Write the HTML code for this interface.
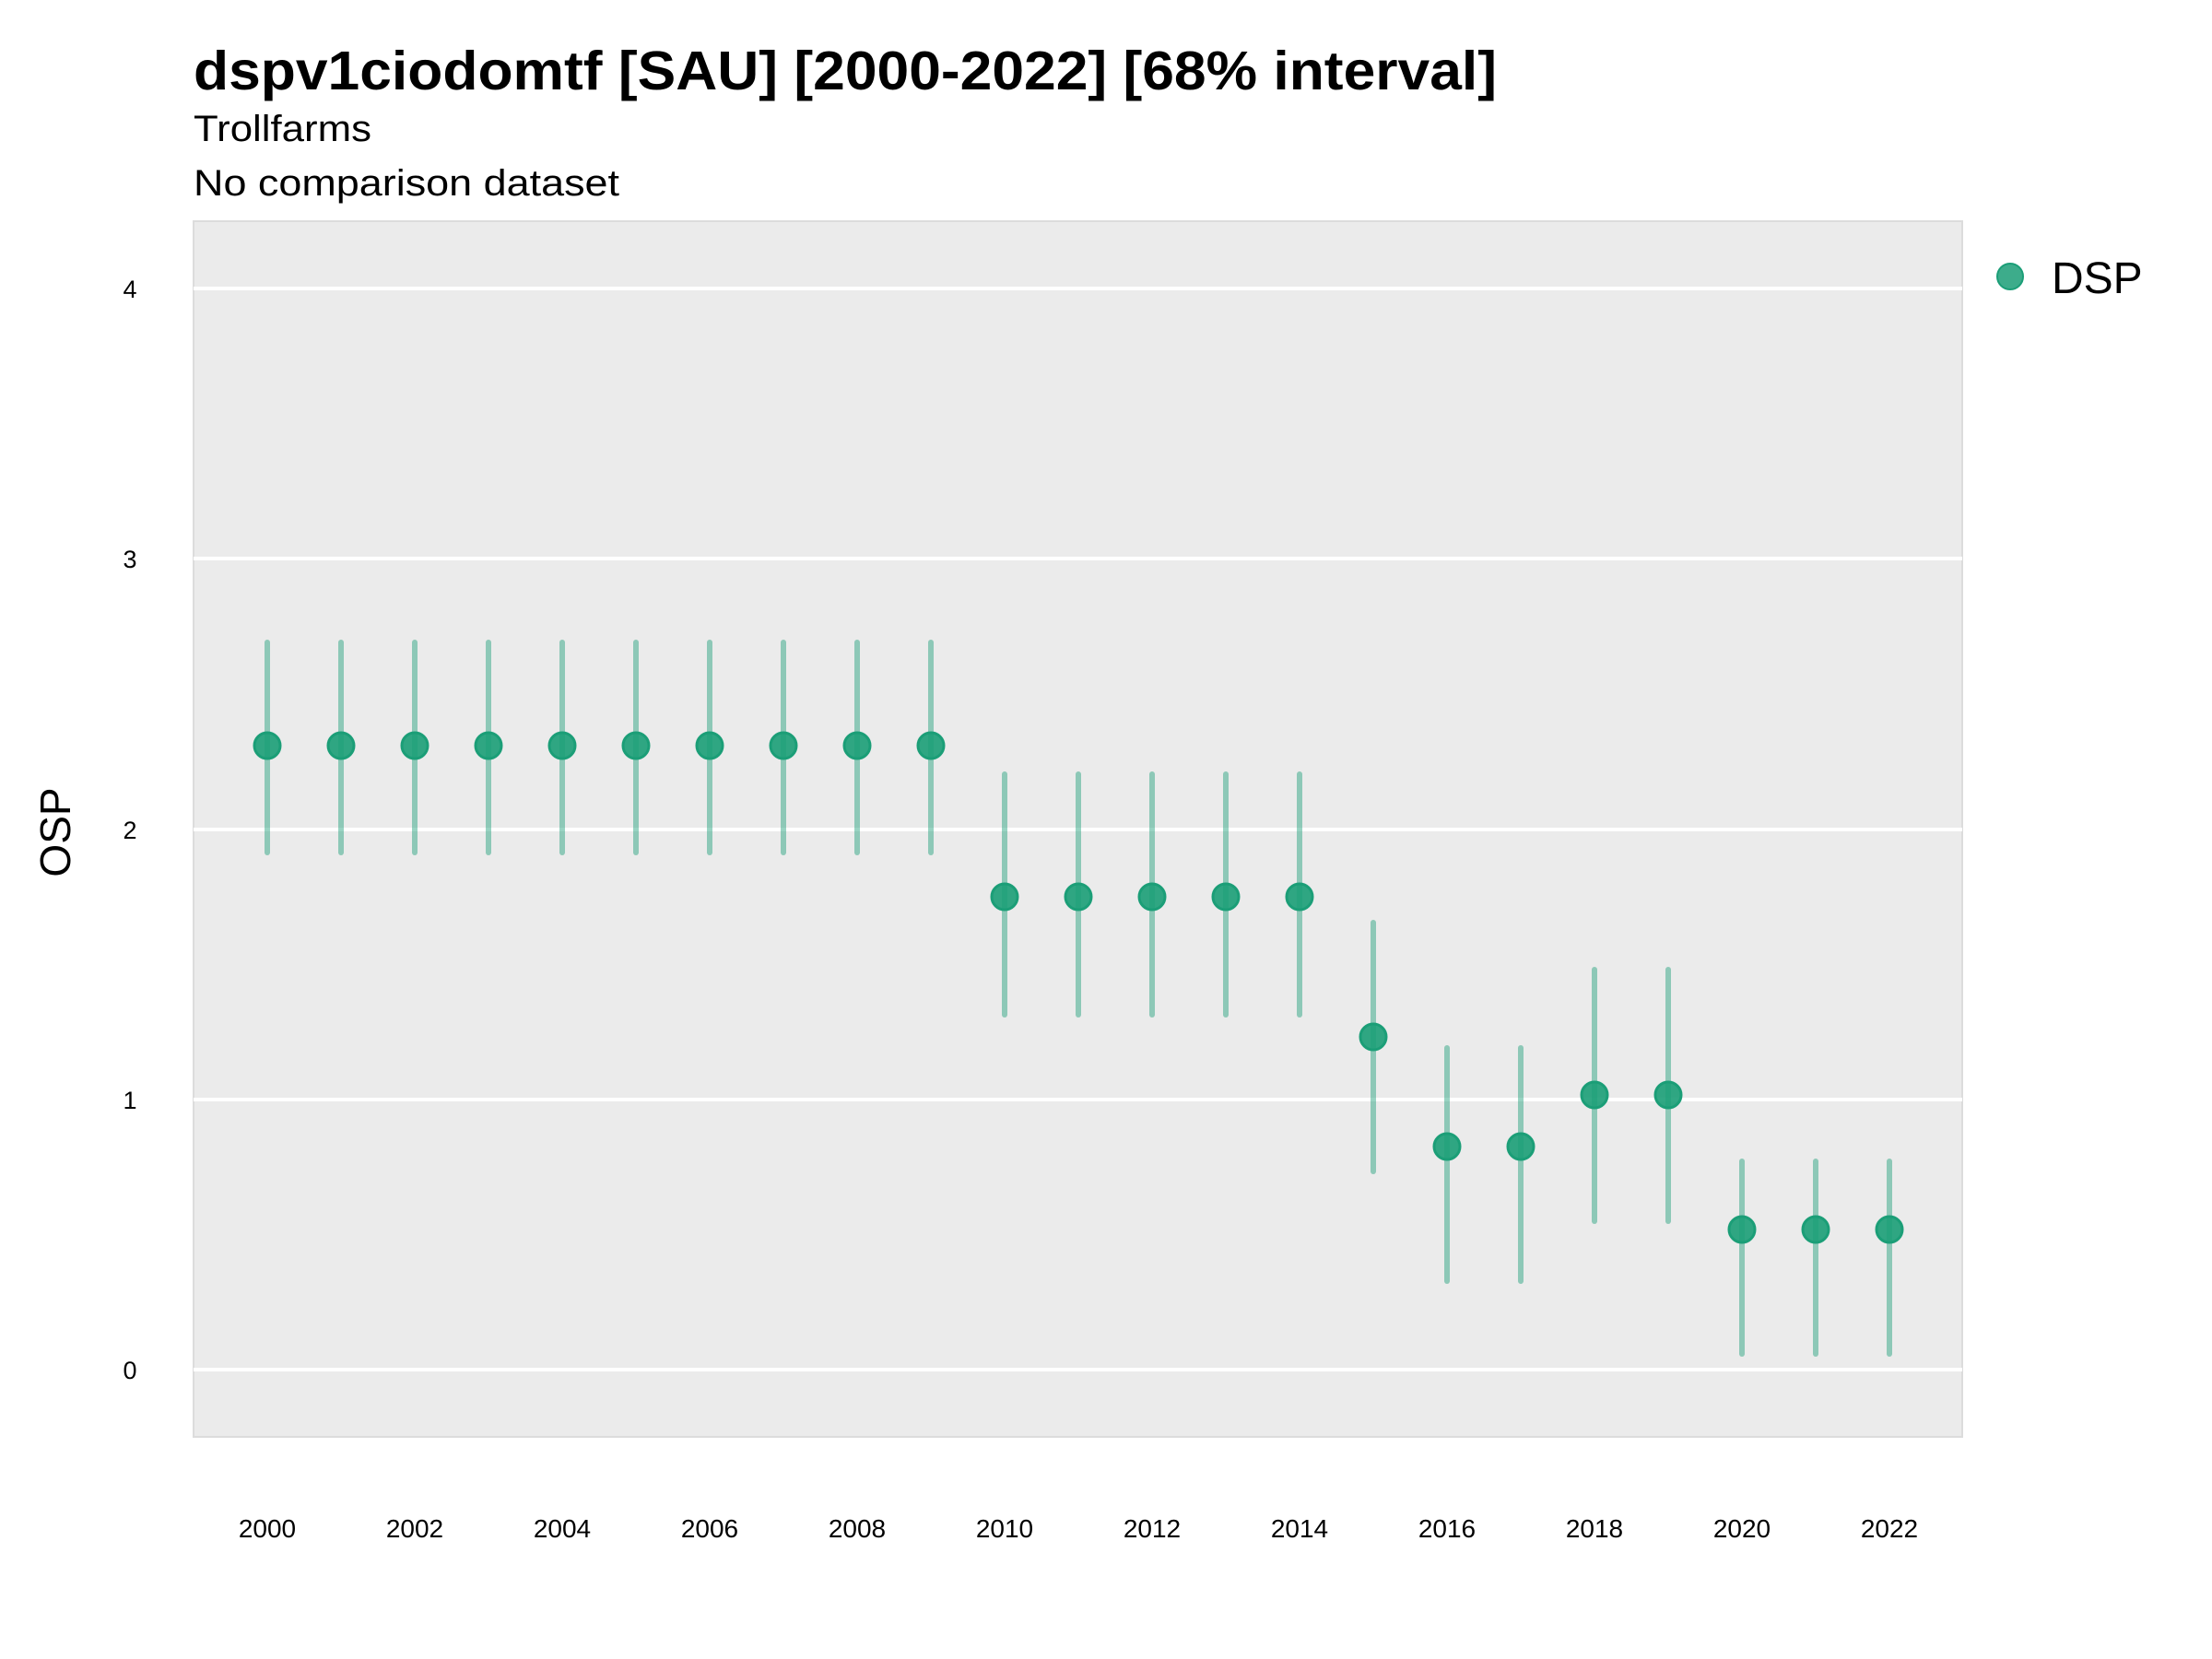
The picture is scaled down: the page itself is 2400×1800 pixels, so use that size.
<!DOCTYPE html>
<html><head><meta charset="utf-8"><style>
html,body{margin:0;padding:0;background:#fff;}
svg{display:block;font-family:"Liberation Sans",sans-serif;}
</style></head><body>
<svg width="2400" height="1800" viewBox="0 0 2400 1800" xmlns="http://www.w3.org/2000/svg">
<rect width="2400" height="1800" fill="#fff"/>
<text x="210" y="97" font-size="59" font-weight="bold" fill="#000" textLength="1414" lengthAdjust="spacingAndGlyphs">dspv1ciodomtf [SAU] [2000-2022] [68% interval]</text>
<text x="210" y="153" font-size="40" fill="#000" textLength="193" lengthAdjust="spacingAndGlyphs">Trollfarms</text>
<text x="210" y="212" font-size="40" fill="#000" textLength="462" lengthAdjust="spacingAndGlyphs">No comparison dataset</text>
<rect x="210" y="240" width="1919" height="1319" fill="#ebebeb" stroke="#dcdcdc" stroke-width="2"/>
<g stroke="#fff" stroke-width="4">
<line x1="210" x2="2129" y1="313" y2="313"/>
<line x1="210" x2="2129" y1="606" y2="606"/>
<line x1="210" x2="2129" y1="900" y2="900"/>
<line x1="210" x2="2129" y1="1193" y2="1193"/>
<line x1="210" x2="2129" y1="1486" y2="1486"/>
</g>
<g font-size="27" fill="#000" text-anchor="middle">
<text x="141" y="323">4</text><text x="141" y="616">3</text><text x="141" y="910">2</text><text x="141" y="1203">1</text><text x="141" y="1496">0</text>
</g>
<text transform="translate(76,903) rotate(-90)" font-size="46" text-anchor="middle" fill="#000">OSP</text>
<g font-size="28" fill="#000" text-anchor="middle">
<text x="290" y="1668">2000</text><text x="450" y="1668">2002</text><text x="610" y="1668">2004</text><text x="770" y="1668">2006</text><text x="930" y="1668">2008</text><text x="1090" y="1668">2010</text><text x="1250" y="1668">2012</text><text x="1410" y="1668">2014</text><text x="1570" y="1668">2016</text><text x="1730" y="1668">2018</text><text x="1890" y="1668">2020</text><text x="2050" y="1668">2022</text>
</g>
<g stroke="#1b9e77" stroke-opacity="0.45" stroke-width="6" stroke-linecap="round">
<line x1="290" x2="290" y1="697" y2="925"/><line x1="370" x2="370" y1="697" y2="925"/><line x1="450" x2="450" y1="697" y2="925"/><line x1="530" x2="530" y1="697" y2="925"/><line x1="610" x2="610" y1="697" y2="925"/><line x1="690" x2="690" y1="697" y2="925"/><line x1="770" x2="770" y1="697" y2="925"/><line x1="850" x2="850" y1="697" y2="925"/><line x1="930" x2="930" y1="697" y2="925"/><line x1="1010" x2="1010" y1="697" y2="925"/>
<line x1="1090" x2="1090" y1="840" y2="1101"/><line x1="1170" x2="1170" y1="840" y2="1101"/><line x1="1250" x2="1250" y1="840" y2="1101"/><line x1="1330" x2="1330" y1="840" y2="1101"/><line x1="1410" x2="1410" y1="840" y2="1101"/>
<line x1="1490" x2="1490" y1="1001" y2="1271"/>
<line x1="1570" x2="1570" y1="1137" y2="1390"/><line x1="1650" x2="1650" y1="1137" y2="1390"/>
<line x1="1730" x2="1730" y1="1052" y2="1325"/><line x1="1810" x2="1810" y1="1052" y2="1325"/>
<line x1="1890" x2="1890" y1="1260" y2="1469"/><line x1="1970" x2="1970" y1="1260" y2="1469"/><line x1="2050" x2="2050" y1="1260" y2="1469"/>
</g>
<g fill="#1b9e77" fill-opacity="0.9" stroke="#1b9e77" stroke-width="3">
<circle cx="290" cy="809" r="14"/><circle cx="370" cy="809" r="14"/><circle cx="450" cy="809" r="14"/><circle cx="530" cy="809" r="14"/><circle cx="610" cy="809" r="14"/><circle cx="690" cy="809" r="14"/><circle cx="770" cy="809" r="14"/><circle cx="850" cy="809" r="14"/><circle cx="930" cy="809" r="14"/><circle cx="1010" cy="809" r="14"/>
<circle cx="1090" cy="973" r="14"/><circle cx="1170" cy="973" r="14"/><circle cx="1250" cy="973" r="14"/><circle cx="1330" cy="973" r="14"/><circle cx="1410" cy="973" r="14"/>
<circle cx="1490" cy="1125" r="14"/>
<circle cx="1570" cy="1244" r="14"/><circle cx="1650" cy="1244" r="14"/>
<circle cx="1730" cy="1188" r="14"/><circle cx="1810" cy="1188" r="14"/>
<circle cx="1890" cy="1334" r="14"/><circle cx="1970" cy="1334" r="14"/><circle cx="2050" cy="1334" r="14"/>
</g>
<circle cx="2181" cy="300" r="14" fill="#1b9e77" fill-opacity="0.85" stroke="#1b9e77" stroke-width="2"/>
<text x="2226" y="318" font-size="48" fill="#000">DSP</text>
</svg>
</body></html>
